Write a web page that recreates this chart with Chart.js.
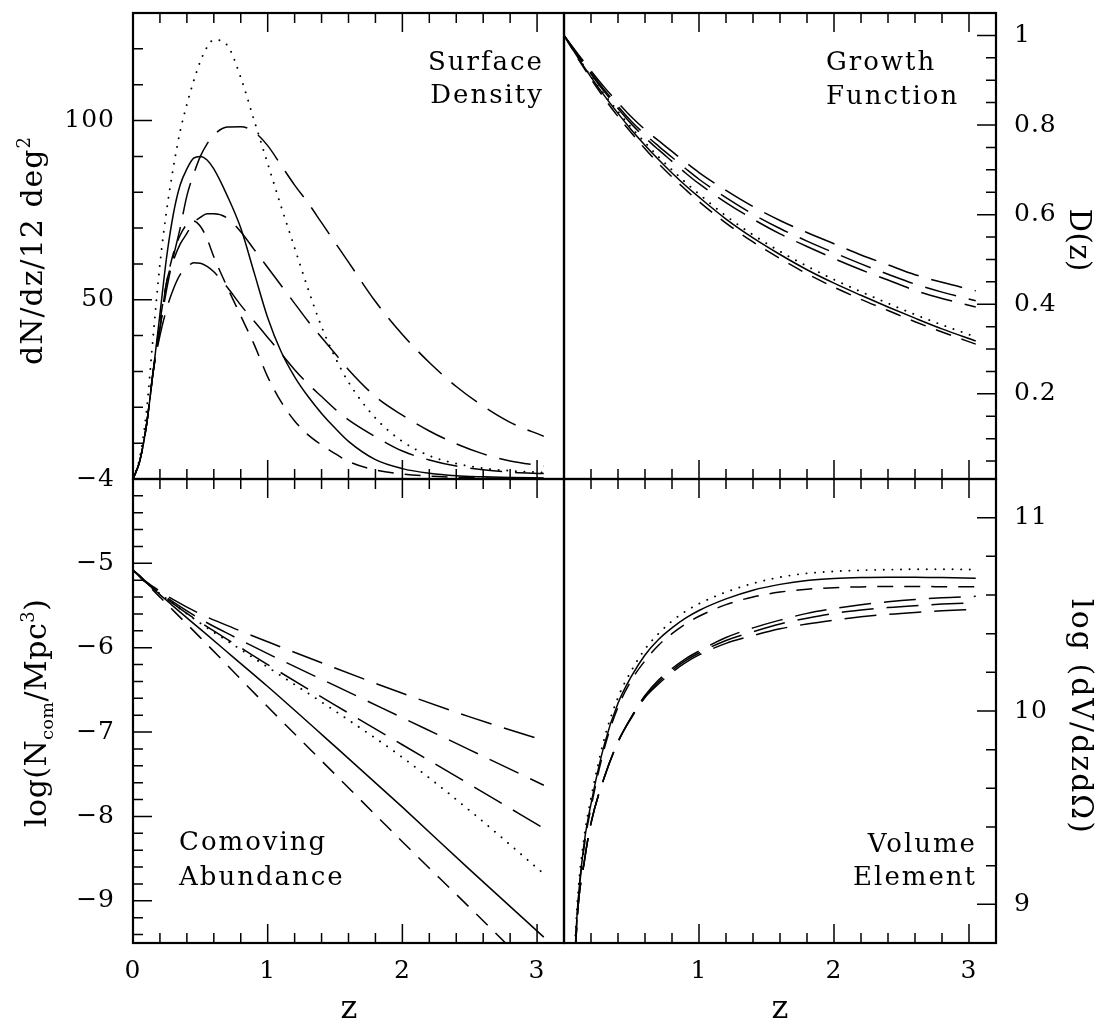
<!DOCTYPE html>
<html><head><meta charset="utf-8">
<script src="https://cdn.jsdelivr.net/npm/chart.js@4.4.1/dist/chart.umd.min.js"></script>
<style>
html,body{margin:0;padding:0;background:#fff;}
#wrap{position:relative;width:1099px;height:1021px;overflow:hidden;background:#fff;}
#wrap canvas{position:absolute;left:0;top:0;}
</style></head><body>
<div id="wrap">
<canvas id="cTL" width="1099" height="1021"></canvas>
<canvas id="cTR" width="1099" height="1021"></canvas>
<canvas id="cBL" width="1099" height="1021"></canvas>
<canvas id="cBR" width="1099" height="1021"></canvas>
</div>
<script>
// ---------- data ----------
const zSurf = [0,0.05,0.1,0.15,0.2,0.25,0.3,0.35,0.4,0.45,0.5,0.55,0.6,0.7,0.8,0.9,1.0,1.1,1.2,1.3,1.4,1.5,1.6,1.8,2.0,2.2,2.4,2.6,2.8,3.05];
const surfSolid = [0,5,15,30,46,62,74,82,86.5,89.5,90,89,86.5,79,70,57.5,45,35.5,28.5,23,18.3,14.2,10.5,5.4,2.9,1.6,0.9,0.6,0.4,0.3];
const surfDot   = [0,6,19,40,60,75,87,97,104.5,111,116.5,120.5,122.5,121,112,100,88,76,64.5,53,42.5,34,27,17,10.5,6.5,4.3,3.0,2.3,1.8];
const surfShort = [0,5,15,30,44,55,63,68,71,72,70.5,67,62,53.5,45.5,37.5,28.5,21.5,16.2,12.3,9.5,7.1,4.9,2.5,1.4,0.8,0.5,0.3,0.2,0.1];
const surfL1    = [0,5,15,30,42,53,62,70,79,85,90,93.5,96,98.2,98.3,96.8,93,87.5,82,77,71.5,66,60.5,49.5,40.3,32.5,25.8,20.3,15.8,11.9];
const surfL2    = [0,5,15,30,42,55,61,65.5,68.5,71.5,73,74,74,72.8,69,64,59,54,49,44,39.5,35,30.5,23,17.8,13.4,9.8,7.0,5.0,3.6];
const surfL3    = [0,5,15,30,40,47.5,53,57,59,60.3,60.2,59.3,57.8,53.5,48.5,44,39.5,35,30.5,26.5,23,19.5,16.5,11.8,7.8,5.3,3.6,2.6,1.9,1.5];

const zGrow = [0,0.1,0.2,0.3,0.4,0.5,0.6,0.7,0.8,0.9,1.0,1.2,1.4,1.6,1.8,2.0,2.2,2.4,2.6,2.8,3.05];
const growSolid = [1,0.952,0.907,0.865,0.826,0.789,0.755,0.723,0.693,0.665,0.639,0.59,0.548,0.511,0.477,0.447,0.42,0.394,0.369,0.345,0.318];
const growDot   = [1,0.953,0.909,0.868,0.83,0.794,0.761,0.729,0.7,0.672,0.646,0.597,0.555,0.518,0.485,0.455,0.428,0.402,0.377,0.354,0.327];
const growShort = [1,0.95,0.903,0.859,0.819,0.782,0.747,0.714,0.684,0.656,0.629,0.581,0.539,0.502,0.468,0.438,0.411,0.386,0.361,0.338,0.311];
const growL1    = [1,0.96,0.921,0.884,0.85,0.818,0.79,0.765,0.741,0.717,0.694,0.654,0.618,0.587,0.56,0.535,0.51,0.488,0.466,0.449,0.43];
const growL2    = [1,0.958,0.917,0.878,0.842,0.808,0.779,0.753,0.728,0.703,0.679,0.638,0.601,0.569,0.541,0.515,0.49,0.467,0.445,0.427,0.408];
const growL3    = [1,0.956,0.914,0.874,0.837,0.802,0.772,0.745,0.719,0.693,0.669,0.627,0.59,0.557,0.529,0.502,0.477,0.454,0.431,0.413,0.394];

const zCom = [0,0.05,0.1,0.2,0.3,0.5,0.75,1.0,1.5,2.0,2.5,3.05];
const comL1    = [-5.08,-5.15,-5.22,-5.33,-5.43,-5.6,-5.77,-5.93,-6.24,-6.54,-6.82,-7.1];
const comL2    = [-5.08,-5.15,-5.23,-5.35,-5.46,-5.66,-5.87,-6.07,-6.45,-6.83,-7.21,-7.63];
const comL3    = [-5.08,-5.15,-5.23,-5.36,-5.48,-5.7,-5.95,-6.2,-6.68,-7.15,-7.62,-8.14];
const comDot   = [-5.08,-5.15,-5.23,-5.36,-5.48,-5.71,-5.97,-6.23,-6.75,-7.3,-7.93,-8.68];
const comSolid = [-5.08,-5.15,-5.23,-5.37,-5.51,-5.78,-6.12,-6.46,-7.17,-7.89,-8.63,-9.43];
const comShort = [-5.08,-5.16,-5.24,-5.4,-5.56,-5.88,-6.29,-6.7,-7.5,-8.3,-9.08,-9.95];

const zVol = [0.05,0.1,0.15,0.2,0.3,0.4,0.5,0.6,0.7,0.8,0.9,1.0,1.2,1.4,1.6,1.8,2.0,2.2,2.4,2.6,2.8,3.05];
const volDot   = [8.35,9.02,9.35,9.55,9.86,10.07,10.21,10.32,10.4,10.465,10.515,10.555,10.615,10.66,10.692,10.712,10.722,10.728,10.731,10.733,10.733,10.732];
const volSolid = [8.3,8.98,9.32,9.52,9.83,10.04,10.18,10.29,10.37,10.43,10.48,10.52,10.58,10.625,10.655,10.675,10.685,10.69,10.692,10.692,10.69,10.687];
const volShort = [8.28,8.96,9.3,9.5,9.81,10.02,10.16,10.26,10.34,10.4,10.45,10.49,10.55,10.59,10.615,10.63,10.638,10.642,10.644,10.644,10.643,10.642];
const volL1    = [8.25,8.95,9.22,9.42,9.66,9.84,9.97,10.08,10.16,10.22,10.27,10.31,10.38,10.43,10.47,10.505,10.53,10.55,10.565,10.577,10.586,10.593];
const volL2    = [8.25,8.95,9.22,9.42,9.66,9.84,9.97,10.075,10.15,10.21,10.26,10.3,10.365,10.41,10.45,10.48,10.505,10.522,10.535,10.545,10.553,10.56];
const volL3    = [8.25,8.95,9.22,9.42,9.66,9.84,9.965,10.07,10.14,10.2,10.25,10.29,10.35,10.39,10.425,10.45,10.47,10.487,10.5,10.51,10.518,10.526];

const xTickLabelsLeft = [0,1,2,3];
const xTickLabelsRight = [1,2,3];
const yTicksSurf = [50,100];
const yTicksGrow = [0.2,0.4,0.6,0.8,1];
const yTicksCom = [-9,-8,-7,-6,-5,-4];
const yTicksVol = [9,10,11];

// ---------- styles ----------
const FONT = '"DejaVu Serif", "Liberation Serif", serif';
Chart.defaults.font.family = FONT;
Chart.defaults.font.size = 25;
Chart.defaults.color = '#000';

const ST = {
  solid: {dash: []},
  dot:   {dash: [0.1, 8.5], cap: 'round', w: 1.9},
  short: {dash: [16, 11]},
  long:  {dash: [32, 13]}
};

const spacingPlugin = {
  id: 'spacing',
  beforeDraw(chart) { chart.ctx.letterSpacing = '1px'; }
};

const frameTicks = {
  id: 'frameTicks',
  afterDatasetsDraw(chart, args, o) {
    const {ctx, chartArea: a} = chart;
    const x = chart.scales.x, y = chart.scales.y;
    ctx.save();
    ctx.letterSpacing = '0px';
    ctx.strokeStyle = '#000';
    ctx.lineWidth = 1.5;
    ctx.setLineDash([]);
    ctx.beginPath();
    const isMaj = (v, m) => Math.abs(v / m - Math.round(v / m)) < 1e-6;
    let n0 = Math.ceil(x.min / o.xMinor - 1e-9), n1 = Math.floor(x.max / o.xMinor + 1e-9);
    for (let n = n0; n <= n1; n++) {
      const v = n * o.xMinor;
      const px = x.getPixelForValue(v);
      const L = isMaj(v, o.xMajor) ? 19 : 10;
      ctx.moveTo(px, a.top); ctx.lineTo(px, a.top + L);
      ctx.moveTo(px, a.bottom); ctx.lineTo(px, a.bottom - L);
    }
    n0 = Math.ceil(y.min / o.yMinor - 1e-9); n1 = Math.floor(y.max / o.yMinor + 1e-9);
    for (let n = n0; n <= n1; n++) {
      const v = n * o.yMinor;
      const py = y.getPixelForValue(v);
      const L = isMaj(v, o.yMajor) ? 19 : 10;
      if (o.side === 'left') { ctx.moveTo(a.left, py); ctx.lineTo(a.left + L, py); }
      else { ctx.moveTo(a.right, py); ctx.lineTo(a.right - L, py); }
    }
    ctx.stroke();
    ctx.lineWidth = 2.2;
    ctx.strokeRect(a.left, a.top, a.right - a.left, a.bottom - a.top);
    ctx.restore();
  }
};

function drawRich(ctx, parts, x, y, rot, align, size, spacing) {
  ctx.save();
  ctx.translate(x, y);
  ctx.rotate(rot);
  ctx.letterSpacing = spacing + 'px';
  ctx.textBaseline = 'alphabetic';
  ctx.textAlign = 'left';
  ctx.fillStyle = '#000';
  let total = 0;
  const ms = parts.map(p => {
    const fs = p.s ? size * p.s : size;
    ctx.font = fs + 'px ' + FONT;
    const w = ctx.measureText(p.t).width;
    total += w;
    return {p, fs, w};
  });
  total -= spacing;
  let cx = align === 'center' ? -total / 2 : (align === 'right' ? -total : 0);
  ms.forEach(m => {
    ctx.font = m.fs + 'px ' + FONT;
    ctx.fillText(m.p.t, cx, m.p.dy || 0);
    cx += m.w;
  });
  ctx.restore();
}

const textPlugin = {
  id: 'panelText',
  afterDraw(chart, args, o) {
    (o.items || []).forEach(it => drawRich(chart.ctx, it.parts, it.x, it.y, it.rot || 0, it.align || 'left', it.size || 26, it.sp == null ? 2 : it.sp));
  }
};

function makePanel(id, o) {
  const datasets = o.series.map(s => ({
    data: o.z.map((z, i) => ({x: z, y: s.v[i]})),
    borderColor: '#000',
    borderWidth: s.st.w || 1.5,
    borderDash: s.st.dash,
    borderCapStyle: s.st.cap || 'butt',
    pointRadius: 0,
    fill: false,
    cubicInterpolationMode: 'monotone'
  }));
  return new Chart(document.getElementById(id), {
    type: 'line',
    data: {datasets},
    plugins: [spacingPlugin, frameTicks, textPlugin],
    options: {
      responsive: false,
      animation: false,
      events: [],
      devicePixelRatio: 1,
      layout: {padding: o.pad},
      plugins: {
        legend: {display: false},
        tooltip: {enabled: false},
        frameTicks: o.ticks,
        panelText: {items: o.text}
      },
      scales: {
        x: {
          type: 'linear', position: 'bottom', min: 0, max: 3.2,
          grid: {display: false, drawTicks: false}, border: {display: false},
          ticks: {display: !!o.xLabels, padding: 13, autoSkip: false, maxRotation: 0, minRotation: 0,
                  font: {size: 25, lineHeight: 1.2}, callback: v => String(v)},
          afterBuildTicks: s => { s.ticks = (o.xLabels || []).map(v => ({value: v})); },
          afterFit: s => { s.height = o.xH; s.paddingLeft = 0; s.paddingRight = 0; }
        },
        y: {
          type: 'linear', position: o.side, min: o.ymin, max: o.ymax,
          grid: {display: false, drawTicks: false}, border: {display: false},
          ticks: {padding: o.side === 'left' ? 18 : 18, autoSkip: false, font: {size: 25, lineHeight: 1.0},
                  callback: o.fmt},
          afterBuildTicks: s => { s.ticks = o.yLabels.map(v => ({value: v})); },
          afterFit: s => { s.width = o.yW; s.paddingTop = 0; s.paddingBottom = 0; }
        }
      }
    }
  });
}

const minus = v => (v < 0 ? '\u2212' + Math.abs(v) : String(v));

// Top-left: surface density
makePanel('cTL', {
  z: zSurf,
  series: [
    {v: surfDot, st: ST.dot}, {v: surfSolid, st: ST.solid}, {v: surfShort, st: ST.short},
    {v: surfL1, st: ST.long}, {v: surfL2, st: ST.long}, {v: surfL3, st: ST.long}
  ],
  pad: {left: 0, top: 13, right: 535, bottom: 542},
  side: 'left', yW: 133, xH: 0, ymin: 0, ymax: 130, yLabels: yTicksSurf, fmt: v => String(v),
  ticks: {xMajor: 1, xMinor: 0.2, yMajor: 50, yMinor: 10, side: 'left'},
  text: [
    {parts: [{t: 'Surface'}], x: 542, y: 70, align: 'right'},
    {parts: [{t: 'Density'}], x: 542, y: 103, align: 'right'},
    {parts: [{t: 'dN/dz/12 deg'}, {t: '2', s: 0.6, dy: -12}], x: 42, y: 251, rot: -Math.PI / 2, align: 'center', size: 30, sp: 1}
  ]
});

// Top-right: growth function
makePanel('cTR', {
  z: zGrow,
  series: [
    {v: growDot, st: ST.dot}, {v: growSolid, st: ST.solid}, {v: growShort, st: ST.short},
    {v: growL1, st: ST.long}, {v: growL2, st: ST.long}, {v: growL3, st: ST.long}
  ],
  pad: {left: 564, top: 13, right: 0, bottom: 542},
  side: 'right', yW: 103, xH: 0, ymin: 0.01, ymax: 1.05, yLabels: yTicksGrow, fmt: v => String(v),
  ticks: {xMajor: 1, xMinor: 0.2, yMajor: 0.2, yMinor: 0.05, side: 'right'},
  text: [
    {parts: [{t: 'Growth'}], x: 826, y: 70, align: 'left'},
    {parts: [{t: 'Function'}], x: 826, y: 104, align: 'left'},
    {parts: [{t: 'D(z)'}], x: 1070, y: 240, rot: Math.PI / 2, align: 'center', size: 29, sp: 0.5}
  ]
});

// Bottom-left: comoving abundance
makePanel('cBL', {
  z: zCom,
  series: [
    {v: comL1, st: ST.long}, {v: comL2, st: ST.long}, {v: comL3, st: ST.long},
    {v: comDot, st: ST.dot}, {v: comSolid, st: ST.solid}, {v: comShort, st: ST.short}
  ],
  pad: {left: 0, top: 479, right: 535, bottom: 0},
  side: 'left', yW: 133, xH: 78, xLabels: xTickLabelsLeft, ymin: -9.5, ymax: -4, yLabels: yTicksCom, fmt: minus,
  ticks: {xMajor: 1, xMinor: 0.2, yMajor: 1, yMinor: 0.2, side: 'left'},
  text: [
    {parts: [{t: 'Comoving'}], x: 179, y: 850, align: 'left'},
    {parts: [{t: 'Abundance'}], x: 179, y: 885, align: 'left'},
    {parts: [{t: 'log(N'}, {t: 'com', s: 0.58, dy: 7}, {t: '/Mpc'}, {t: '3', s: 0.6, dy: -12}, {t: ')'}], x: 46, y: 713, rot: -Math.PI / 2, align: 'center', size: 30, sp: 0.5},
    {parts: [{t: 'z'}], x: 349, y: 1018, align: 'center', size: 32, sp: 0}
  ]
});

// Bottom-right: volume element
makePanel('cBR', {
  z: zVol,
  series: [
    {v: volDot, st: ST.dot}, {v: volSolid, st: ST.solid}, {v: volShort, st: ST.short},
    {v: volL1, st: ST.long}, {v: volL2, st: ST.long}, {v: volL3, st: ST.long}
  ],
  pad: {left: 564, top: 479, right: 0, bottom: 0},
  side: 'right', yW: 103, xH: 78, xLabels: xTickLabelsRight, ymin: 8.8, ymax: 11.2, yLabels: yTicksVol, fmt: v => String(v),
  ticks: {xMajor: 1, xMinor: 0.2, yMajor: 1, yMinor: 0.2, side: 'right'},
  text: [
    {parts: [{t: 'Volume'}], x: 975, y: 852, align: 'right'},
    {parts: [{t: 'Element'}], x: 975, y: 885, align: 'right'},
    {parts: [{t: 'log (dV/dzd\u03A9)'}], x: 1072, y: 716, rot: Math.PI / 2, align: 'center', size: 30, sp: 2},
    {parts: [{t: 'z'}], x: 780, y: 1018, align: 'center', size: 32, sp: 0}
  ]
});
</script>
</body></html>
